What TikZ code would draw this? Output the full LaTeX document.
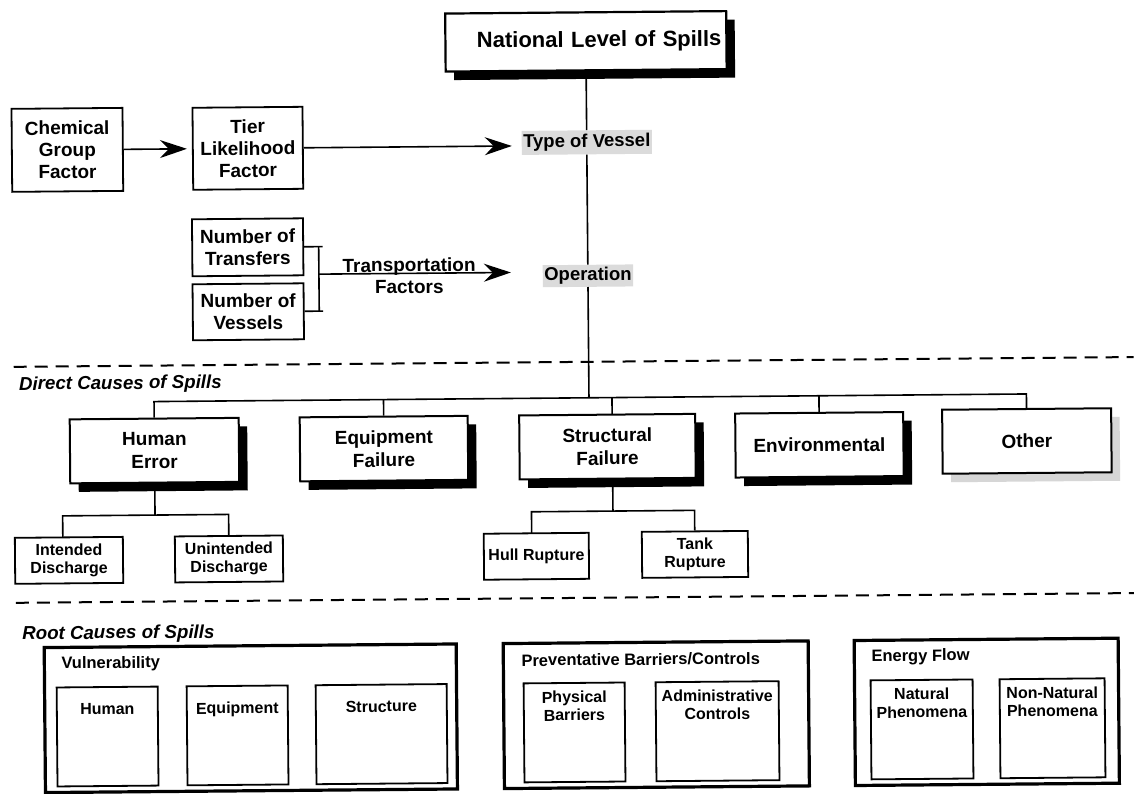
\documentclass[tikz,border=0pt]{standalone}
\usepackage{fontspec}
\setmainfont{Liberation Sans}
\usetikzlibrary{arrows.meta,shadows}

\begin{document}
\begin{tikzpicture}[x=1pt,y=-1pt,
  conn/.style={line width=1.6pt},
  arr/.style={conn,-{Stealth[length=27pt,width=18pt,inset=9pt]}},
  fbox/.style={draw,line width=1.8pt,fill=white,inner sep=0pt,align=center,
    font=\fontsize{19}{22}\selectfont\bfseries},
  cause/.style={fbox,line width=2pt,minimum height=64pt,
    font=\fontsize{19}{23}\selectfont\bfseries},
  blackshadow/.style={drop shadow={shadow xshift=8.5pt,shadow yshift=-8.5pt,fill=black,opacity=1}},
  greyshadow/.style={drop shadow={shadow xshift=8.5pt,shadow yshift=-8.5pt,fill=black!16,opacity=1}},
  subbox/.style={fbox,minimum height=46pt,font=\fontsize{16}{18}\selectfont\bfseries},
  midtag/.style={fill=black!14,inner xsep=1.5pt,inner ysep=0pt,minimum height=24pt,
    font=\fontsize{18.5}{20}\selectfont\bfseries},
  headline/.style={anchor=west,inner sep=0pt,font=\fontsize{18.7}{20}\selectfont\bfseries\itshape},
  divider/.style={line width=2pt,dash pattern=on 13pt off 8pt},
  rootbox/.style={draw,line width=3.2pt,inner sep=0pt,minimum height=145pt},
  grouptitle/.style={anchor=west,inner sep=0pt,font=\fontsize{16.5}{18}\selectfont\bfseries},
  inbox/.style={draw,line width=1.8pt,inner sep=0pt,minimum height=99pt},
  intext/.style={anchor=north,inner sep=0pt,align=center,font=\fontsize{16}{18}\selectfont\bfseries},
]
\useasboundingbox[fill=white] (0,0) rectangle (1134,793);

\begin{scope}[rotate around={0.5:(567,396)}, transform shape]

% ---------- top: national level and its factors ----------
\node[fbox,blackshadow,line width=2.2pt,minimum width=281pt,minimum height=58pt,
      text width=271pt,inner xsep=5pt,align=right,
      font=\fontsize{22}{24}\selectfont\bfseries] (title) at (589,41.5) {National Level of Spills};

\node[midtag] (tv) at (589,142.5) {Type of Vessel};
\node[midtag,minimum height=22pt] (op) at (589,276) {Operation};

\node[fbox,minimum width=111pt,minimum height=83pt] (chem) at (69.5,145.5) {Chemical\\Group\\Factor};
\node[fbox,minimum width=110pt,minimum height=82pt] (tier) at (250,145.5) {Tier\\Likelihood\\Factor};
\node[fbox,minimum width=111pt,minimum height=57pt] (trans) at (249,244.5) {Number of\\Transfers};
\node[fbox,minimum width=111pt,minimum height=56pt] (vess) at (249,309) {Number of\\Vessels};

\draw[conn] (title.south) -- (tv.north);
\draw[conn] (tv.south) -- (op.north);

\coordinate (tvIn) at (514,145.5);
\draw[arr,shorten >=1pt] (chem.east) -- ([xshift=-4pt]tier.west);
\draw[arr] (tier.east) -- (tvIn);

% bracket joining the two transport counts
\coordinate (tT) at (324,244.5);
\coordinate (tB) at (324,309);
\coordinate (vT) at (320,244.5);
\coordinate (vB) at (320,309);
\coordinate (brk) at (320,272);
\coordinate (opIn) at (512,272);
\draw[conn] (trans.east) -- (tT);
\draw[conn] (vess.east) -- (tB);
\draw[conn] (vT) -- (vB);
\draw[arr] (brk) -- (opIn)
  node[pos=0.47,yshift=-2.5pt,align=center,inner sep=0pt,
       font=\fontsize{19}{22}\selectfont\bfseries] (tf) {Transportation\\Factors};

% ---------- direct causes ----------
\draw[divider] (14,362) -- (1134,362);
\node[headline] (direct) at (19,380.5) {Direct Causes of Spills};

\node[cause,blackshadow,minimum width=169pt] (human) at (154,447) {Human\\Error};
\node[cause,blackshadow,minimum width=168pt] (equip) at (383.5,447) {Equipment\\Failure};
\node[cause,blackshadow,minimum width=176pt] (struct) at (607,447) {Structural\\Failure};
\node[cause,blackshadow,minimum width=168pt] (env) at (819,447) {Environmental};
\node[cause,greyshadow,minimum width=169pt] (other) at (1026.5,445) {Other};

\coordinate (busT) at (589,398);
\coordinate (busH) at (154,398);
\coordinate (busE) at (383.5,398);
\coordinate (busS) at (612,398);
\coordinate (busV) at (819,398);
\coordinate (busO) at (1026.5,398);
\coordinate (sTop) at (612,415);
\draw[conn] (op.south) -- (busT);
\draw[conn] (human.north) -- (busH) -- (busO) -- (other.north);
\draw[conn] (equip.north) -- (busE);
\draw[conn] (sTop) -- (busS);
\draw[conn] (env.north) -- (busV);

\node[subbox,minimum width=108pt] (intended) at (67.6,556) {Intended\\Discharge};
\node[subbox,minimum width=108pt] (unintended) at (227.6,556) {Unintended\\Discharge};
\node[subbox,minimum width=105pt] (hull) at (535,556) {Hull Rupture};
\node[subbox,minimum width=106pt] (tank) at (693.6,555.5) {Tank\\Rupture};

\coordinate (hsub) at (154,511.5);
\coordinate (hsubL) at (61.6,511.5);
\coordinate (hsubR) at (227.6,511.5);
\coordinate (intTop) at (61.6,533);
\draw[conn] (human.south) -- (hsub);
\draw[conn] (intTop) -- (hsubL) -- (hsubR) -- (unintended.north);

\coordinate (sBot) at (612,479);
\coordinate (ssub) at (612,511.5);
\coordinate (ssubL) at (530.5,511.5);
\coordinate (ssubR) at (693.6,511.5);
\coordinate (hullTop) at (530.5,533);
\draw[conn] (sBot) -- (ssub);
\draw[conn] (hullTop) -- (ssubL) -- (ssubR) -- (tank.north);

% ---------- root causes ----------
\draw[divider] (14,598) -- (1134,598);
\node[headline] (root) at (20,630) {Root Causes of Spills};

\node[rootbox,minimum width=412pt] (vuln) at (248,715.5) {};
\node[rootbox,minimum width=305pt] (prev) at (653.5,715.5) {};
\node[rootbox,minimum width=264pt] (energy) at (984,715.5) {};

\node[grouptitle] (vulnT) at (59,660) {Vulnerability};
\node[grouptitle] (prevT) at (519,660) {Preventative Barriers/Controls};
\node[grouptitle] (energyT) at (869,660) {Energy Flow};

\node[inbox,minimum width=101pt] (vh) at (104.6,732.5) {};
\node[inbox,minimum width=101pt] (ve) at (234.6,732.5) {};
\node[inbox,minimum width=131pt] (vs) at (378.6,732.5) {};
\node[inbox,minimum width=101pt] (pb) at (571.6,732.5) {};
\node[inbox,minimum width=123pt] (ac) at (714.6,732.5) {};
\node[inbox,minimum width=102pt] (nat) at (919.1,732.5) {};
\node[inbox,minimum width=105pt] (nnat) at (1049.6,732.5) {};

\node[intext] (vhT) at (104.6,699) {Human};
\node[intext] (veT) at (234.6,699) {Equipment};
\node[intext] (vsT) at (378.6,699) {Structure};
\node[intext] (pbT) at (571.6,691) {Physical\\Barriers};
\node[intext] (acT) at (714.6,691) {Administrative\\Controls};
\node[intext] (natT) at (919.1,691) {Natural\\Phenomena};
\node[intext] (nnatT) at (1049.6,691) {Non-Natural\\Phenomena};

\end{scope}
\end{tikzpicture}
\end{document}
